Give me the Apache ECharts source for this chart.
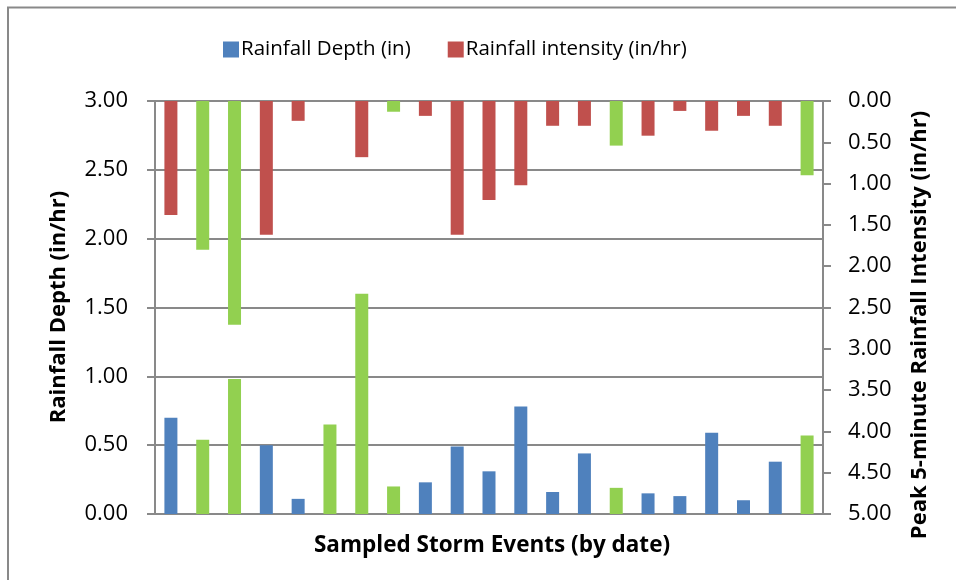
<!DOCTYPE html>
<html>
<head>
<meta charset="utf-8">
<script src="https://cdn.jsdelivr.net/npm/echarts@6/dist/echarts.min.js"></script>
<style>
  html, body { margin: 0; padding: 0; background: #fff; }
  #chart { width: 956px; height: 580px; }
</style>
</head>
<body>
<div id="chart"></div>
<script>
// Sampled storm events, in date order
const events = ['1','2','3','4','5','6','7','8','9','10','11','12','13','14','15','16','17','18','19','20','21'];

// Rainfall depth per event (in)
const depthValues = [0.70, 0.54, 0.98, 0.50, 0.11, 0.65, 1.60, 0.20, 0.23, 0.49, 0.31,
                     0.78, 0.16, 0.44, 0.19, 0.15, 0.13, 0.59, 0.10, 0.38, 0.57];

// Peak 5-minute rainfall intensity per event (in/hr); '-' where none was recorded
const intensityValues = [1.38, 1.80, 2.71, 1.62, 0.24, '-', 0.68, 0.13, 0.18, 1.62, 1.20,
                         1.02, 0.30, 0.30, 0.54, 0.42, 0.12, 0.36, 0.18, 0.30, 0.90];

// Events highlighted in green
const highlightDepth = [1, 2, 5, 6, 7, 14, 20];
const highlightIntensity = [1, 2, 7, 14, 20];

// Axis tick labels
const leftTicks = ['0.00', '0.50', '1.00', '1.50', '2.00', '2.50', '3.00'];
const rightTicks = ['0.00', '0.50', '1.00', '1.50', '2.00', '2.50', '3.00', '3.50', '4.00', '4.50', '5.00'];

const BLUE = '#4F81BD', RED = '#C0504D', GREEN = '#92D050', GRAY = '#898989';
const FONT = 'Open Sans';

function colored(values, highlight, base) {
  return values.map((v, i) => ({
    value: v,
    itemStyle: { color: highlight.includes(i) ? GREEN : base }
  }));
}

const chart = echarts.init(document.getElementById('chart'), null, { renderer: 'canvas' });

chart.setOption({
  animation: false,
  backgroundColor: '#fff',
  textStyle: { fontFamily: FONT },
  grid: { left: 155, right: 133, top: 101, bottom: 66 },
  legend: {
    top: 39,
    left: 223,
    padding: 0,
    itemWidth: 16,
    itemHeight: 16,
    itemGap: 37,
    icon: 'rect',
    textStyle: { fontFamily: FONT, fontSize: 20.5, color: '#000', padding: [0, 0, 0, -3] },
    data: ['Rainfall Depth (in)', 'Rainfall intensity (in/hr)']
  },
  xAxis: {
    type: 'category',
    data: events,
    axisLine: { lineStyle: { color: GRAY, width: 2 } },
    axisTick: { show: false },
    axisLabel: { show: false }
  },
  yAxis: [
    {
      type: 'value',
      min: 0, max: 3, interval: 0.5,
      axisLine: { show: true, lineStyle: { color: GRAY, width: 2 } },
      axisTick: { show: true, length: 8, lineStyle: { color: GRAY, width: 2 } },
      axisLabel: {
        fontFamily: FONT, fontSize: 22, color: '#000', margin: 27,
        formatter: (v) => leftTicks[Math.round(v / 0.5)]
      },
      splitLine: { lineStyle: { color: GRAY, width: 2 } }
    },
    {
      type: 'value',
      inverse: true,
      min: 0, max: 5, interval: 0.5,
      axisLine: { show: true, lineStyle: { color: GRAY, width: 2 } },
      axisTick: { show: true, length: 8, lineStyle: { color: GRAY, width: 2 } },
      axisLabel: {
        fontFamily: FONT, fontSize: 22, color: '#000', margin: 25,
        formatter: (v) => rightTicks[Math.round(v / 0.5)]
      },
      splitLine: { show: false }
    }
  ],
  series: [
    {
      name: 'Rainfall Depth (in)',
      type: 'bar',
      yAxisIndex: 0,
      barWidth: 13,
      barGap: '-100%',
      itemStyle: { color: BLUE },
      data: colored(depthValues, highlightDepth, BLUE)
    },
    {
      name: 'Rainfall intensity (in/hr)',
      type: 'bar',
      yAxisIndex: 1,
      barWidth: 13,
      barGap: '-100%',
      itemStyle: { color: RED },
      data: colored(intensityValues, highlightIntensity, RED)
    }
  ],
  graphic: [
    // outer frame (top and left edges)
    { type: 'polyline', shape: { points: [[8, 590], [8, 7.5], [960, 7.5]] },
      style: { stroke: GRAY, lineWidth: 2, fill: null } },
    { type: 'text', x: 492, y: 546, style: {
        text: 'Sampled Storm Events (by date)', fontFamily: FONT, fontWeight: 'bold',
        fontSize: 22.5, fill: '#000', align: 'center', verticalAlign: 'middle' } },
    { type: 'text', x: 59, y: 307, rotation: Math.PI / 2, style: {
        text: 'Rainfall Depth (in/hr)', fontFamily: FONT, fontWeight: 'bold',
        fontSize: 22, fill: '#000', align: 'center', verticalAlign: 'middle' } },
    { type: 'text', x: 920, y: 325, rotation: Math.PI / 2, style: {
        text: 'Peak 5-minute Rainfall Intensity (in/hr)', fontFamily: FONT, fontWeight: 'bold',
        fontSize: 22, fill: '#000', align: 'center', verticalAlign: 'middle' } }
  ]
});
</script>
</body>
</html>
